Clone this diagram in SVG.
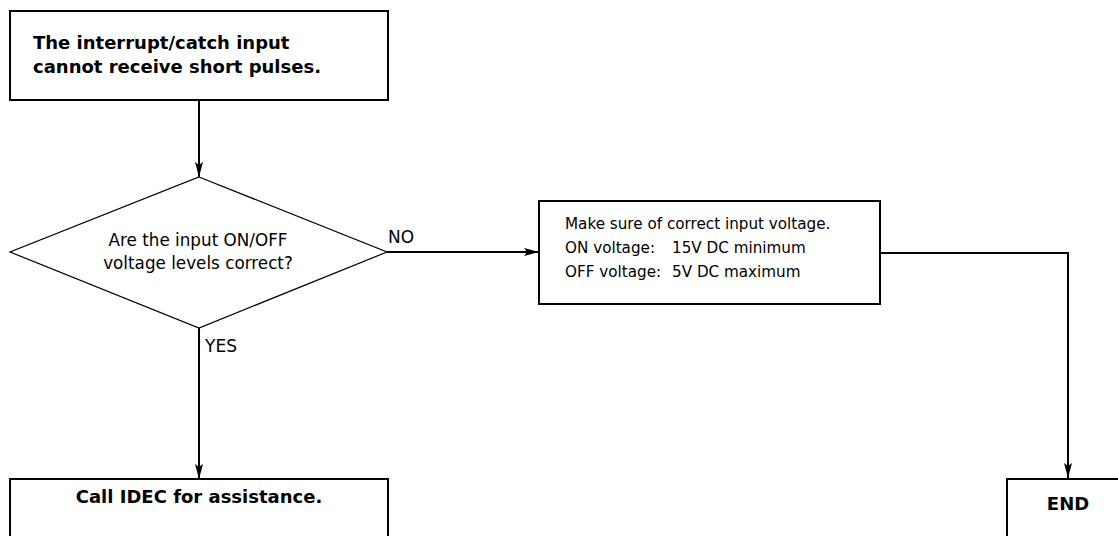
<svg xmlns="http://www.w3.org/2000/svg" width="1118" height="536" viewBox="0 0 1118 536">
<style>
text{font-family:"DejaVu Sans",Verdana,sans-serif;fill:#000}
.b{font-weight:bold;font-size:18px}
.r{font-size:16.8px}
.s{font-size:15.2px}
.box{fill:#fff;stroke:#000;stroke-width:2}
.dia{fill:#fff;stroke:#000;stroke-width:1.2}
.ln{fill:none;stroke:#000;stroke-width:2}
</style>
<defs>
<marker id="ah" markerUnits="userSpaceOnUse" markerWidth="16" markerHeight="10" refX="15" refY="4" orient="auto">
<path d="M0,0 L15,4 L0,8 L3,4 Z" fill="#000"/>
</marker>
</defs>
<rect width="1118" height="536" fill="#fff"/>
<g id="connectors">
<line class="ln" x1="199" y1="101" x2="199" y2="177" marker-end="url(#ah)"/>
<line class="ln" x1="387" y1="252" x2="539" y2="252" marker-end="url(#ah)"/>
<line class="ln" x1="199" y1="328" x2="199" y2="479" marker-end="url(#ah)"/>
<polyline class="ln" points="880,253 1068,253 1068,478" marker-end="url(#ah)"/>
<text class="r" x="388" y="243" style="font-size:17px">NO</text>
<text class="r" x="205" y="352" style="font-size:17px">YES</text>
</g>
<g id="start">
<rect class="box" x="10" y="11" width="378" height="89"/>
<text class="b" x="33" y="49">The interrupt/catch input</text>
<text class="b" x="33" y="73">cannot receive short pulses.</text>
</g>
<g id="decision">
<polygon class="dia" points="199,177 387,252 199,328 10,252"/>
<text class="r" x="198" y="246" text-anchor="middle">Are the input ON/OFF</text>
<text class="r" x="198" y="269" text-anchor="middle">voltage levels correct?</text>
</g>
<g id="check">
<rect class="box" x="539" y="201" width="341" height="103"/>
<text class="s" x="565" y="229">Make sure of correct input voltage.</text>
<text class="s" x="565" y="253">ON voltage:</text>
<text class="s" x="672" y="253">15V DC minimum</text>
<text class="s" x="565" y="277">OFF voltage:</text>
<text class="s" x="672" y="277">5V DC maximum</text>
</g>
<g id="call">
<rect class="box" x="10" y="479" width="378" height="80"/>
<text class="b" x="199" y="503" text-anchor="middle">Call IDEC for assistance.</text>
</g>
<g id="end">
<rect class="box" x="1007" y="479" width="122" height="80"/>
<text class="b" x="1068" y="510" text-anchor="middle">END</text>
</g>
</svg>
